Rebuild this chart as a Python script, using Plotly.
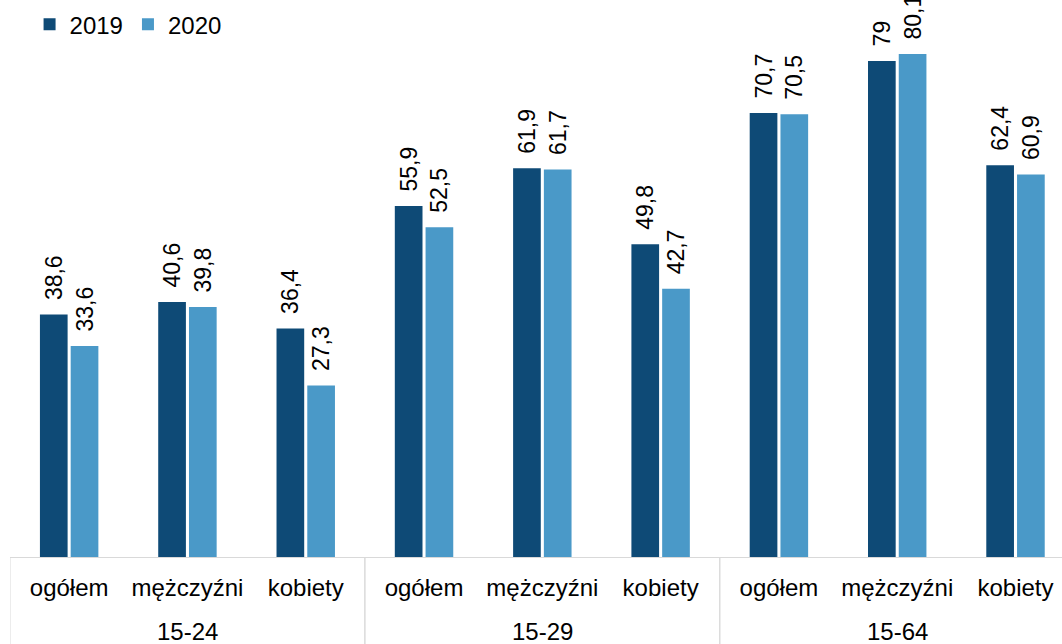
import plotly.graph_objects as go

groups = ["15-24", "15-24", "15-24", "15-29", "15-29", "15-29", "15-64", "15-64", "15-64"]
subcats = ["ogółem", "mężczyźni", "kobiety"] * 3
series_names = ["2019", "2020"]
values_2019 = [38.6, 40.6, 36.4, 55.9, 61.9, 49.8, 70.7, 79.0, 62.4]
values_2020 = [33.6, 39.8, 27.3, 52.5, 61.7, 42.7, 70.5, 80.1, 60.9]
colors = ["#0E4A76", "#4A99C8"]

FONT = "Liberation Sans, Arial, sans-serif"
PLOT_H = 557
BOTTOM = 87

keys = [f"{g} {s}" for g, s in zip(groups, subcats)]


def fmt(v):
    s = f"{v:.1f}"
    if s.endswith(".0"):
        s = s[:-2]
    return "\u2002" + s.replace(".", ",")


fig = go.Figure()
for name, vals, col in zip(series_names, [values_2019, values_2020], colors):
    fig.add_trace(go.Bar(
        name=name,
        x=keys,
        y=vals,
        marker=dict(color=col, line=dict(width=0)),
        text=[fmt(v) for v in vals],
        textposition="outside",
        textangle=-90,
        constraintext="none",
        cliponaxis=False,
        textfont=dict(family=FONT, size=23, color="#000000"),
        hoverinfo="skip",
    ))

# group labels and dividers derived from the group list
shapes = []
annotations = []
unique_groups = []
for g in groups:
    if g not in unique_groups:
        unique_groups.append(g)
for g in unique_groups:
    idx = [i for i, gg in enumerate(groups) if gg == g]
    mid = keys[idx[len(idx) // 2]]
    annotations.append(dict(
        x=mid, xref="x", y=-(631 - PLOT_H) / PLOT_H, yref="paper",
        text=g, showarrow=False, yanchor="middle", xanchor="center",
        font=dict(family=FONT, size=24, color="#000000"),
    ))
    for b in (idx[0] - 0.5, idx[-1] + 0.5):
        shapes.append(dict(
            type="line", xref="x", yref="paper",
            x0=b, x1=b, y0=0, y1=-BOTTOM / PLOT_H,
            line=dict(color="#D9D9D9", width=1),
        ))

fig.update_layout(
    width=1062,
    height=644,
    margin=dict(l=10, r=0, t=0, b=BOTTOM, autoexpand=False),
    paper_bgcolor="white",
    plot_bgcolor="white",
    barmode="group",
    bargap=0.48,
    bargroupgap=0.1,
    font=dict(family=FONT, size=24, color="#000000"),
    showlegend=True,
    legend=dict(
        orientation="h",
        x=0.0186, y=0.996, xanchor="left", yanchor="top",
        font=dict(family=FONT, size=24, color="#000000"),
        bgcolor="rgba(0,0,0,0)",
        itemwidth=30,
    ),
    shapes=shapes,
    annotations=annotations,
    xaxis=dict(
        type="category",
        tickmode="array",
        tickvals=keys,
        ticktext=subcats,
        range=[-0.5, 8.393],
        automargin=False,
        showline=True,
        linecolor="#D9D9D9",
        linewidth=1,
        showgrid=False,
        ticks="",
        ticklabelstandoff=9,
        tickfont=dict(family=FONT, size=24, color="#000000"),
    ),
    yaxis=dict(
        range=[0, 88.7],
        visible=False,
        showgrid=False,
        zeroline=False,
        automargin=False,
    ),
)

fig.write_html(
    "out.html",
    config={"displayModeBar": False},
    post_script="document.body.style.margin='0';document.body.style.overflow='hidden';",
)
